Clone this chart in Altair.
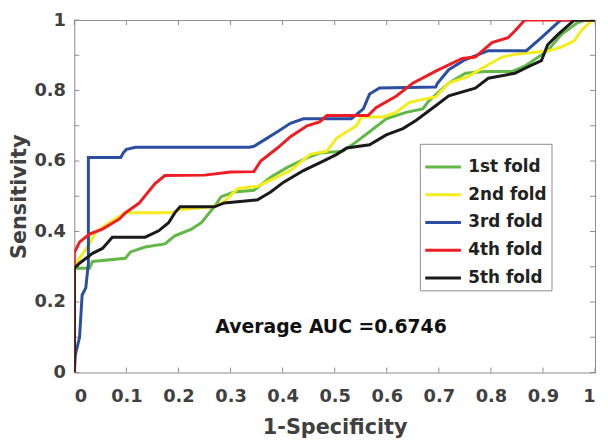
import altair as alt
import pandas as pd

folds = ["1st fold", "2nd fold", "3rd fold", "4th fold", "5th fold"]
colors = ["#62b846", "#f4ec1c", "#2b4ea2", "#ee1d24", "#1a1a1a"]

fold1_x = [0, 0, 0.029, 0.035, 0.098, 0.108, 0.136, 0.174, 0.193, 0.225, 0.244, 0.269, 0.282, 0.307, 0.345, 0.377, 0.409, 0.447, 0.472, 0.516, 0.542, 0.567, 0.599, 0.637, 0.669, 0.681, 0.719, 0.751, 0.789, 0.84, 0.865, 0.909, 0.935, 0.966, 0.98, 1]
fold1_y = [0, 0.296, 0.296, 0.315, 0.324, 0.342, 0.356, 0.365, 0.388, 0.407, 0.425, 0.471, 0.499, 0.512, 0.517, 0.554, 0.582, 0.609, 0.623, 0.628, 0.655, 0.683, 0.72, 0.738, 0.748, 0.771, 0.821, 0.849, 0.854, 0.854, 0.869, 0.913, 0.959, 0.992, 1.0, 1]

fold2_x = [0, 0, 0.01, 0.029, 0.041, 0.067, 0.098, 0.187, 0.2, 0.269, 0.288, 0.314, 0.352, 0.376, 0.415, 0.453, 0.485, 0.504, 0.523, 0.542, 0.551, 0.593, 0.618, 0.643, 0.669, 0.694, 0.719, 0.757, 0.783, 0.821, 0.852, 0.909, 0.935, 0.96, 0.973, 0.992, 1]
fold2_y = [0, 0.296, 0.324, 0.365, 0.398, 0.425, 0.453, 0.453, 0.462, 0.471, 0.485, 0.522, 0.528, 0.545, 0.573, 0.619, 0.628, 0.665, 0.683, 0.70, 0.725, 0.725, 0.738, 0.766, 0.775, 0.782, 0.821, 0.84, 0.863, 0.895, 0.904, 0.912, 0.923, 0.941, 0.969, 0.996, 1]

fold3_x = [0, 0.002, 0.01, 0.015, 0.022, 0.027, 0.027, 0.089, 0.095, 0.1, 0.118, 0.336, 0.345, 0.365, 0.39, 0.415, 0.44, 0.532, 0.555, 0.567, 0.586, 0.694, 0.697, 0.719, 0.751, 0.795, 0.868, 0.897, 0.928, 0.935, 1]
fold3_y = [0, 0.05, 0.10, 0.22, 0.24, 0.31, 0.61, 0.61, 0.625, 0.633, 0.639, 0.639, 0.642, 0.66, 0.683, 0.707, 0.72, 0.72, 0.748, 0.79, 0.807, 0.81, 0.82, 0.859, 0.888, 0.913, 0.913, 0.95, 0.992, 1.0, 1]

fold4_x = [0, 0, 0, 0.01, 0.029, 0.054, 0.086, 0.098, 0.124, 0.155, 0.174, 0.25, 0.30, 0.345, 0.358, 0.39, 0.415, 0.447, 0.471, 0.485, 0.564, 0.58, 0.618, 0.65, 0.694, 0.745, 0.77, 0.802, 0.833, 0.846, 0.865, 1]
fold4_y = [0, 0.324, 0.34, 0.37, 0.393, 0.407, 0.435, 0.453, 0.48, 0.536, 0.559, 0.56, 0.569, 0.57, 0.60, 0.637, 0.669, 0.70, 0.711, 0.729, 0.729, 0.752, 0.784, 0.821, 0.855, 0.891, 0.895, 0.936, 0.95, 0.969, 1.0, 1]

fold5_x = [0, 0, 0.01, 0.035, 0.054, 0.073, 0.136, 0.162, 0.181, 0.193, 0.203, 0.269, 0.288, 0.352, 0.377, 0.402, 0.44, 0.478, 0.504, 0.523, 0.567, 0.599, 0.631, 0.656, 0.694, 0.719, 0.77, 0.795, 0.846, 0.871, 0.897, 0.909, 0.928, 0.954, 0.96, 1]
fold5_y = [0, 0.296, 0.31, 0.338, 0.352, 0.384, 0.384, 0.402, 0.425, 0.453, 0.47, 0.47, 0.481, 0.49, 0.512, 0.54, 0.573, 0.60, 0.619, 0.637, 0.646, 0.674, 0.692, 0.715, 0.757, 0.785, 0.807, 0.835, 0.849, 0.867, 0.885, 0.93, 0.958, 0.992, 1.0, 1]

tick_values = [0, 0.1, 0.2, 0.3, 0.4, 0.5, 0.6, 0.7, 0.8, 0.9, 1]
auc_text = "Average AUC =0.6746"
auc_x = [0.493]
auc_y = [0.128]

xs = [fold1_x, fold2_x, fold3_x, fold4_x, fold5_x]
ys = [fold1_y, fold2_y, fold3_y, fold4_y, fold5_y]
rows = []
for f, xl, yl in zip(folds, xs, ys):
    for i, (a, b) in enumerate(zip(xl, yl)):
        rows.append({"fold": f, "i": i, "fpr": a, "tpr": b})
df = pd.DataFrame(rows)
ticks = pd.DataFrame({"t": tick_values})
auc_df = pd.DataFrame({"x": auc_x, "y": auc_y, "label": [auc_text]})

W, H = 526, 356
FONT = "DejaVu Sans"
GRAY = "#8c8c8c"
TXT = "#404040"

xscale = alt.Scale(domain=[0, 1], nice=False, zero=False)
yscale = alt.Scale(domain=[0, 1], nice=False, zero=False)

lines = alt.Chart(df).mark_line(strokeWidth=3, clip=True).encode(
    x=alt.X("fpr:Q", scale=xscale,
            axis=alt.Axis(values=tick_values, format="~g", title="1-Specificity",
                          ticks=False, domain=False, grid=False, labelPadding=15,
                          titlePadding=12)),
    y=alt.Y("tpr:Q", scale=yscale,
            axis=alt.Axis(values=tick_values, format="~g", title="Sensitivity",
                          ticks=False, domain=False, grid=False, labelPadding=9,
                          titlePadding=4)),
    color=alt.Color("fold:N", scale=alt.Scale(domain=folds, range=colors),
                    legend=alt.Legend(title=None, orient="none", legendX=349, legendY=125,
                                      symbolType="stroke", symbolStrokeWidth=3,
                                      symbolSize=1296, labelFontSize=17,
                                      labelFont=FONT, labelFontWeight="bold",
                                      labelColor="#222222", strokeColor=GRAY,
                                      fillColor="white", padding=4, labelOffset=6,
                                      rowPadding=-2)),
    order=alt.Order("i:Q"),
)

tick_b = alt.Chart(ticks).mark_rule(color=GRAY, strokeWidth=1).encode(
    x=alt.X("t:Q", scale=xscale), y=alt.value(H), y2=alt.value(H - 5))
tick_t = alt.Chart(ticks).mark_rule(color=GRAY, strokeWidth=1).encode(
    x=alt.X("t:Q", scale=xscale), y=alt.value(0), y2=alt.value(5))
tick_l = alt.Chart(ticks).mark_rule(color=GRAY, strokeWidth=1).encode(
    y=alt.Y("t:Q", scale=yscale), x=alt.value(0), x2=alt.value(5))
tick_r = alt.Chart(ticks).mark_rule(color=GRAY, strokeWidth=1).encode(
    y=alt.Y("t:Q", scale=yscale), x=alt.value(W), x2=alt.value(W - 5))

auc = alt.Chart(auc_df).mark_text(font=FONT, fontWeight="bold", fontSize=19,
                                  color="#111111", align="center", baseline="middle").encode(
    x=alt.X("x:Q", scale=xscale), y=alt.Y("y:Q", scale=yscale), text="label:N")

chart = alt.layer(tick_b, tick_t, tick_l, tick_r, lines, auc).properties(
    width=W, height=H,
    background="white",
    autosize=alt.AutoSizeParams(type="none"),
    padding={"left": 67, "top": 10, "right": 5, "bottom": 66},
).configure_view(stroke=GRAY, strokeWidth=1).configure_axis(
    labelFont=FONT, labelFontWeight="bold", labelFontSize=18, labelColor=TXT,
    titleFont=FONT, titleFontWeight="bold", titleFontSize=21, titleColor=TXT,
)

chart.save("out.html", embed_options={"renderer": "svg", "actions": False})
